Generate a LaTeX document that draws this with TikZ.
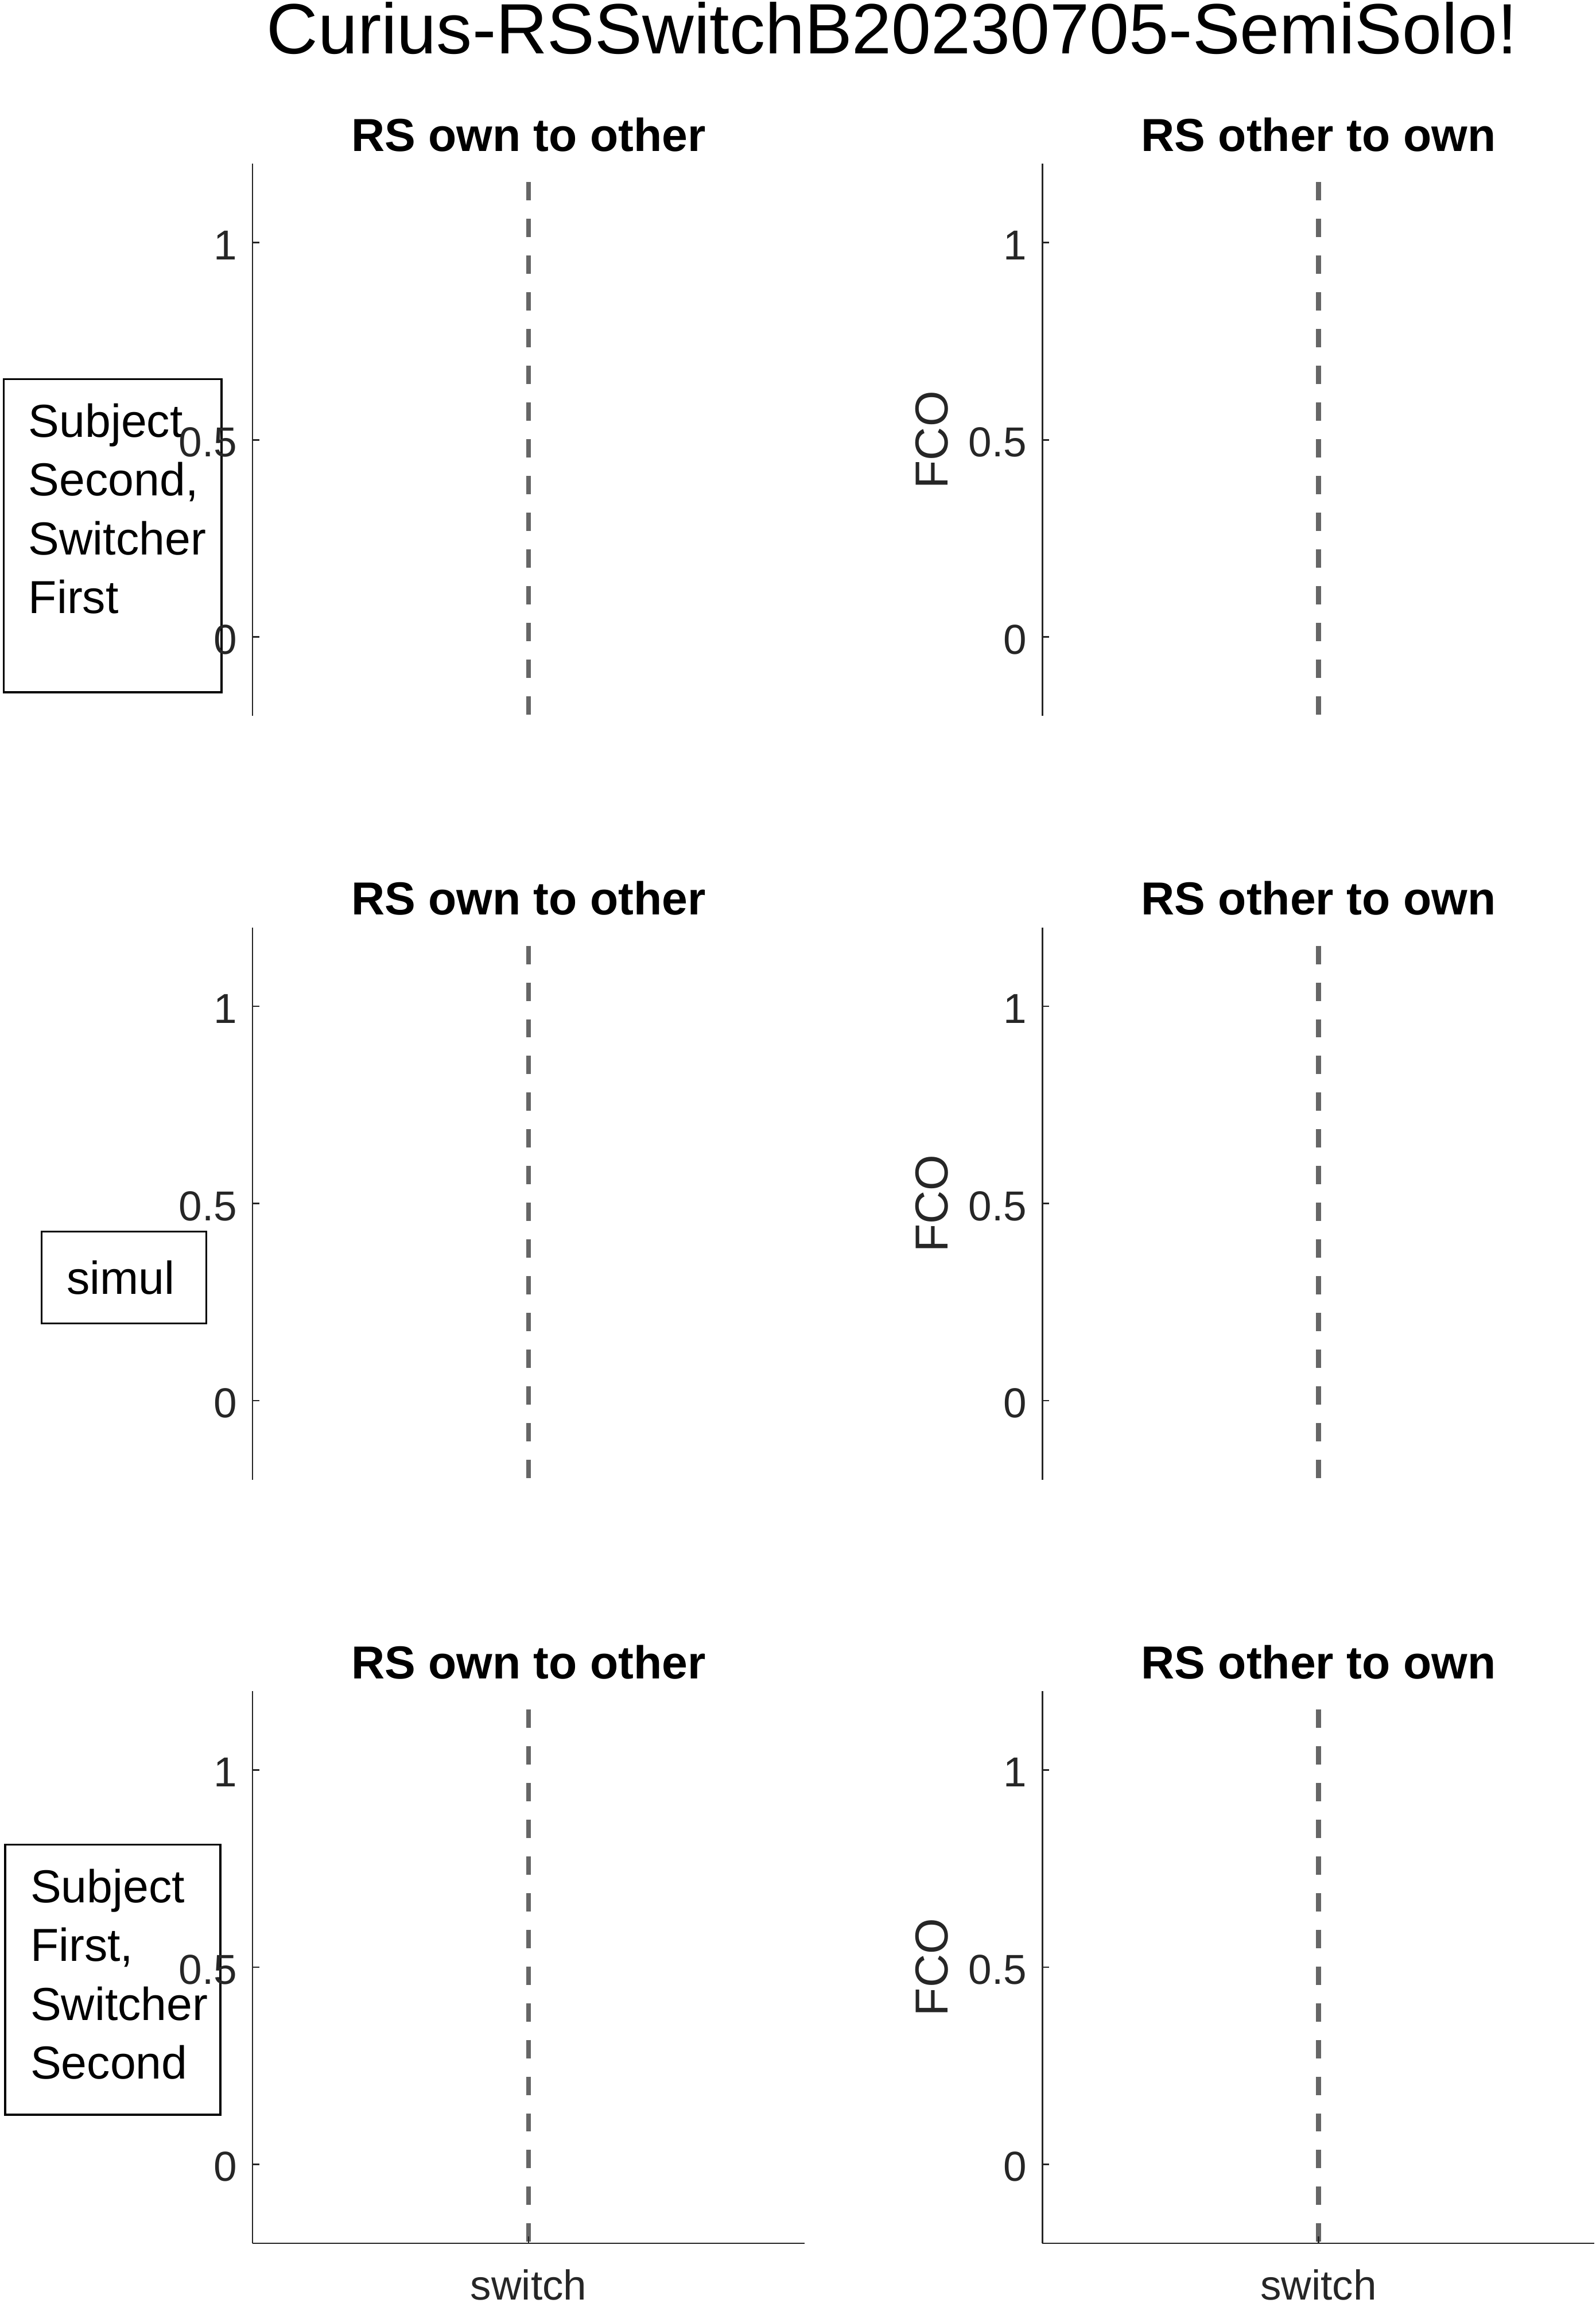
\documentclass[tikz,border=0pt]{standalone}
\usepackage{fontspec}
\setmainfont{Liberation Sans}
\usepackage{xcolor}
\usepackage{tikz}
\usetikzlibrary{calc}
\definecolor{axis}{HTML}{262626}
\definecolor{switchln}{HTML}{666666}
\tikzset{
  axisln/.style={draw=axis, line width=1.05pt},
  switchdash/.style={draw=switchln, line width=3.4pt, dash pattern=on 12.5pt off 12.5pt, dash phase=12.5pt},
  boxln/.style={draw=black, line width=1.3pt, inner sep=0pt},
  ticklab/.style={text=axis, font=\fontsize{28.5}{30}\selectfont, inner sep=0pt},
  ylab/.style={text=axis, font=\fontsize{31.5}{33}\selectfont, inner sep=0pt, rotate=90},
  ptitle/.style={text=black, font=\fontsize{31.5}{33}\selectfont\bfseries, inner sep=0pt},
  suptitle/.style={text=black, font=\fontsize{48.5}{50}\selectfont, inner sep=0pt},
  boxtext/.style={text=black, font=\fontsize{31.5}{40}\selectfont, inner sep=0pt, align=left}
}

\begin{document}
\begin{tikzpicture}[x=1pt, y=-1pt]
  \useasboundingbox (0,0) rectangle (1087,1568.2);
  \def\W{376}
  \def\H{376}
  \def\U{268.57}
  \node[suptitle, anchor=base] (sup) at (607.5,36.5) {Curius-RSSwitchB20230705-SemiSolo!};
  % condition boxes
  \node[boxln, anchor=north west, minimum width=148.2pt, minimum height=213.4pt] (boxA) at (2,257.4) {};
  \node[boxln, anchor=north west, minimum width=112.2pt, minimum height=62.5pt] (boxB) at (27.6,837.9) {};
  \node[boxln, anchor=north west, minimum width=146.6pt, minimum height=184pt] (boxC) at (2.9,1255.3) {};
  \node[boxtext, anchor=base west] (txtA) at (19.3,417.7) {Subject\\Second,\\Switcher\\First};
  \node[boxtext, anchor=base west] (txtB) at (45.3,881.2) {simul};
  \node[boxtext, anchor=base west] (txtC) at (20.6,1415.6) {Subject\\First,\\Switcher\\Second};
  % panels
  \foreach \r in {0,1,2}{
    \foreach \c/\x/\ttl in {0/172/RS own to other, 1/710/RS other to own}{
      \pgfmathsetmacro{\yt}{111.5+520*\r}
      \coordinate (top-\r-\c) at (\x,\yt);
      \coordinate (bot-\r-\c) at (\x,\yt+\H);
      \coordinate (mt-\r-\c) at (\x+\W/2,\yt);
      \coordinate (mb-\r-\c) at (\x+\W/2,\yt+\H);
      \draw[axisln] (top-\r-\c) -- (bot-\r-\c);
      \draw[switchdash] (mt-\r-\c) -- (mb-\r-\c);
      \foreach \v/\i in {1/a, 0.5/b, 0/c}{
        \coordinate (tk-\r-\c-\i) at (\x,\yt+1.2*\U-\v*\U);
        \draw[axisln] (tk-\r-\c-\i) -- ++(4.5,0);
        \node[ticklab, anchor=base east] (tl-\r-\c-\i) at ($(tk-\r-\c-\i)+(-10.4,11.5)$) {\v};
      }
      \node[ptitle, anchor=base] (ttl-\r-\c) at ($(mt-\r-\c)+(0,-8.5)$) {\ttl};
    }
    \node[ylab] (fco-\r) at (634.5,299.5+520*\r) {FCO};
  }
  % x axes of the last row
  \foreach \c in {0,1}{
    \draw[axisln] (bot-2-\c) -- ++(\W,0);
    \draw[axisln] (mb-2-\c) -- ++(0,-4.5);
    \node[ticklab, anchor=base] (xl-\c) at ($(mb-2-\c)+(0,38.5)$) {switch};
  }
\end{tikzpicture}
\end{document}
